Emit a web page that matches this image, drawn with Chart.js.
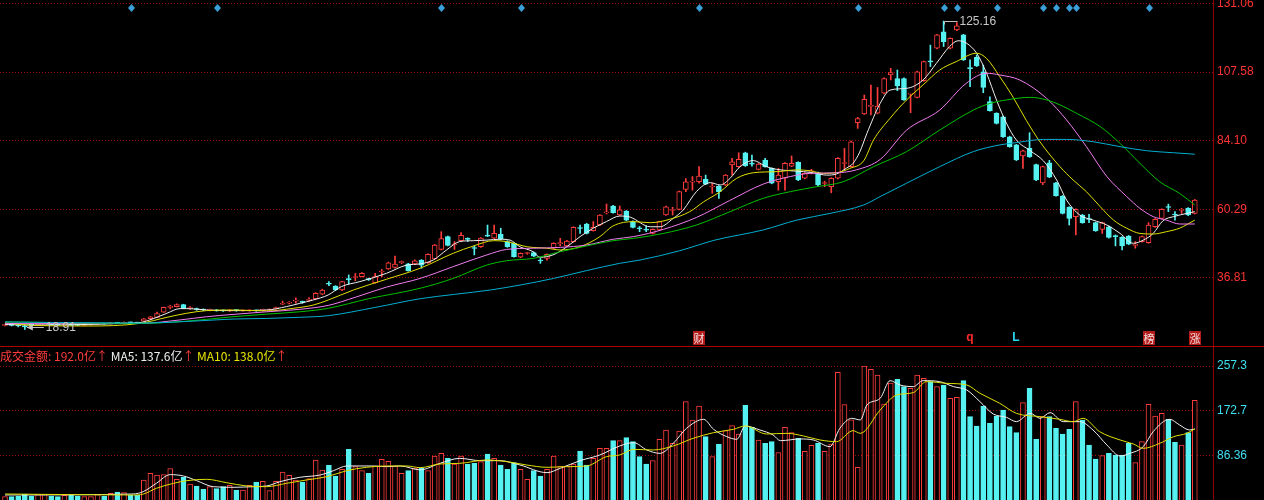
<!DOCTYPE html>
<html>
<head>
<meta charset="utf-8">
<script src="https://cdn.jsdelivr.net/npm/chart.js@4.4.1/dist/chart.umd.min.js"></script>
<style>
  html, body { margin: 0; padding: 0; background: #000; }
  #wrap { position: relative; width: 1264px; height: 500px; overflow: hidden; background: #000; }
  #price { position: absolute; left: 0; top: 0; }
  #vol { position: absolute; left: 0; top: 346px; }
  #sep { position: absolute; left: 0; top: 346px; width: 1264px; height: 1px; background: #b00000; }
</style>
</head>
<body>
<div id="wrap">
  <canvas id="price" width="1264" height="346"></canvas>
  <canvas id="vol" width="1264" height="154"></canvas>
  <div id="sep"></div>
</div>
<script>
// ── Données (une bougie par séance, index 0..180) ────────────────────────────

const opens = [
  20.3, 20.6, 20.4, 20.1, 20.5, 20.3, 20.5, 20.7, 20.5, 20.4,
  20.6, 20.5, 20.3, 20.5, 20.7, 21.0, 20.9, 21.3, 21.0, 21.4,
  21.3, 21.8, 22.6, 23.1, 24.9, 26.5, 26.8, 27.45, 26.1, 26.0,
  25.8, 25.5, 25.7, 25.5, 25.3, 25.6, 25.3, 25.3, 25.5, 25.5,
  25.6, 26.1, 27.6, 28.0, 28.7, 28.4, 28.95, 29.5, 31.05, 34.7,
  33.9, 32.5, 36.3, 36.8, 37.1, 36.3, 35.0, 38.7, 39.75, 40.3,
  41.95, 41.5, 41.5, 42.85, 41.9, 43.2, 46.5, 50.9, 48.1, 49.5,
  50.05, 47.0, 47.4, 51.2, 50.4, 51.7, 49.2, 48.6, 43.8, 45.1,
  45.4, 42.7, 43.4, 46.9, 48.5, 47.7, 49.2, 53.9, 55.26, 52.96,
  54.9, 59.1, 61.45, 58.35, 59.7, 56.06, 53.9, 53.3, 52.0, 53.2,
  58.35, 59.9, 60.3, 67.2, 69.7, 69.8, 70.6, 68.0, 68.35, 68.7,
  75.6, 75.0, 79.8, 76.0, 74.1, 77.3, 74.4, 69.8, 71.0, 75.2,
  76.5, 71.0, 73.2, 72.9, 69.2, 68.1, 71.0, 76.1, 75.0, 90.2,
  93.2, 95.8, 93.4, 100.3, 106.6, 105.4, 105.4, 100.0, 98.9, 104.6,
  111.3, 115.8, 121.5, 115.8, 122.1, 120.4, 109.0, 112.7, 107.7, 97.4,
  93.4, 92.2, 85.3, 82.5, 78.7, 81.3, 75.7, 69.4, 76.3, 69.4,
  64.9, 61.0, 57.8, 58.35, 56.95, 55.7, 53.4, 54.3, 51.0, 50.65,
  51.1, 47.9, 49.2, 48.8, 54.3, 57.2, 61.1, 58.5, 59.95, 60.65,
  58.9
];
const highs = [
  20.8, 20.7, 20.5, 20.3, 20.6, 20.7, 20.8, 20.8, 20.6, 20.7,
  20.7, 20.6, 20.6, 20.8, 21.1, 21.1, 21.4, 21.4, 21.5, 21.5,
  21.4, 22.7, 23.4, 24.9, 26.6, 27.2, 27.7, 27.6, 26.8, 26.3,
  26.0, 25.9, 25.8, 25.6, 25.7, 25.7, 25.6, 25.7, 25.6, 25.9,
  26.0, 26.6, 28.7, 28.5, 29.8, 28.7, 29.9, 31.6, 32.8, 35.4,
  34.0, 35.5, 37.7, 38.2, 38.5, 36.6, 38.25, 39.6, 42.1, 44.2,
  42.5, 41.7, 42.9, 43.0, 45.0, 48.2, 52.6, 51.1, 49.2, 52.3,
  50.5, 47.7, 50.6, 54.9, 54.9, 53.8, 49.5, 48.8, 45.3, 45.5,
  45.6, 43.4, 45.0, 48.8, 50.3, 49.6, 54.3, 54.9, 55.5, 56.1,
  58.5, 62.15, 61.7, 61.45, 59.9, 56.3, 54.4, 54.6, 53.6, 56.2,
  61.4, 61.0, 66.6, 70.9, 71.6, 75.0, 72.1, 69.3, 68.5, 72.3,
  77.9, 79.8, 80.0, 79.0, 76.1, 77.9, 74.6, 74.4, 76.4, 78.7,
  76.7, 72.9, 74.1, 73.1, 70.0, 71.2, 78.1, 81.3, 83.8, 92.0,
  99.7, 103.1, 102.3, 105.6, 108.9, 108.3, 105.6, 100.3, 107.9, 111.4,
  116.9, 120.6, 125.16, 119.4, 124.7, 120.6, 111.8, 113.5, 110.0, 99.1,
  93.6, 92.4, 85.5, 82.7, 80.7, 86.7, 75.9, 75.2, 77.2, 69.6,
  65.1, 61.2, 60.5, 58.6, 58.6, 55.9, 55.9, 54.5, 51.5, 50.9,
  51.3, 49.2, 51.1, 55.7, 57.1, 60.5, 62.1, 59.5, 60.65, 60.9,
  63.7
];
const lows = [
  20.1, 20.1, 19.8, 18.91, 20.2, 20.2, 20.4, 20.4, 20.3, 20.3,
  20.3, 20.2, 20.2, 20.4, 20.6, 20.7, 20.8, 20.9, 20.9, 21.1,
  21.0, 21.7, 22.5, 23.0, 24.8, 26.0, 26.7, 26.1, 25.8, 25.5,
  25.4, 25.3, 25.2, 25.1, 25.1, 25.2, 25.2, 25.2, 25.2, 25.3,
  25.5, 25.9, 27.5, 27.7, 28.0, 27.9, 28.6, 29.3, 30.9, 34.0,
  32.3, 32.3, 34.6, 35.7, 37.0, 35.8, 34.9, 37.1, 39.6, 40.0,
  41.6, 39.0, 41.3, 40.0, 41.7, 43.0, 46.3, 47.7, 46.5, 49.3,
  49.2, 44.6, 47.2, 50.9, 50.2, 49.8, 47.2, 43.8, 43.6, 44.8,
  44.0, 41.7, 42.8, 46.7, 47.7, 47.5, 49.0, 52.0, 51.8, 52.8,
  54.7, 58.7, 59.0, 58.2, 56.4, 53.9, 52.6, 52.6, 51.8, 53.0,
  58.2, 58.35, 60.1, 66.4, 66.9, 69.3, 68.8, 65.8, 64.1, 68.5,
  72.1, 74.8, 75.1, 75.2, 73.9, 74.8, 69.1, 66.9, 66.9, 75.0,
  70.2, 70.8, 72.5, 68.5, 68.1, 66.0, 70.8, 73.9, 74.8, 88.2,
  93.0, 92.8, 93.2, 100.1, 104.9, 101.2, 97.8, 93.6, 98.7, 104.4,
  109.5, 115.6, 116.4, 115.6, 121.9, 111.6, 102.6, 109.5, 100.5, 94.1,
  89.7, 85.1, 81.7, 77.1, 74.4, 78.2, 70.2, 68.8, 71.2, 64.8,
  58.7, 54.9, 51.5, 55.5, 55.7, 52.7, 52.0, 50.4, 47.7, 46.3,
  48.1, 46.9, 49.0, 48.6, 54.1, 57.0, 59.5, 56.6, 58.9, 58.1,
  58.7
];
const closes = [
  20.5, 20.3, 20.1, 19.8, 20.3, 20.6, 20.7, 20.5, 20.4, 20.6,
  20.4, 20.3, 20.5, 20.7, 21.0, 20.8, 21.3, 21.0, 21.4, 21.2,
  21.1, 22.6, 23.3, 24.4, 26.5, 26.7, 27.5, 26.2, 26.3, 25.8,
  25.6, 25.7, 25.3, 25.3, 25.5, 25.4, 25.5, 25.5, 25.3, 25.6,
  25.8, 26.2, 27.8, 28.1, 28.8, 28.26, 29.06, 31.36, 32.5, 34.5,
  32.5, 35.4, 36.1, 36.95, 38.25, 36.1, 37.1, 38.85, 41.9, 41.4,
  42.1, 39.2, 42.6, 41.1, 44.8, 48.0, 50.2, 47.9, 48.25, 51.35,
  49.95, 46.8, 50.4, 51.05, 52.0, 50.0, 47.4, 44.0, 45.15, 45.3,
  44.2, 42.5, 44.8, 48.6, 48.6, 49.4, 54.1, 53.7, 52.0, 54.1,
  58.35, 59.2, 59.16, 60.1, 56.6, 54.1, 53.6, 53.1, 53.4, 56.05,
  61.2, 60.07, 66.4, 69.8, 69.8, 71.8, 69.0, 68.1, 66.4, 72.1,
  76.7, 77.5, 75.35, 75.9, 75.9, 75.0, 69.3, 72.1, 76.15, 76.15,
  70.4, 72.7, 73.3, 68.7, 69.3, 71.0, 77.9, 76.2, 83.6, 91.6,
  98.2, 95.9, 95.9, 105.4, 107.4, 102.8, 98.0, 100.1, 107.7, 111.2,
  111.1, 120.4, 118.1, 119.2, 123.5, 111.8, 108.8, 109.7, 102.35, 94.3,
  89.9, 85.3, 81.9, 77.3, 80.5, 78.4, 70.4, 75.0, 71.4, 65.0,
  58.9, 57.2, 60.3, 55.7, 56.8, 52.95, 55.7, 50.65, 50.9, 47.7,
  48.3, 48.0, 50.9, 54.9, 56.86, 60.3, 60.95, 58.35, 60.07, 58.35,
  63.5
];
// Montant des transactions (亿)
const volumes = [
  9.1, 9.1, 10.4, 14.2, 10.4, 12.9, 12.9, 10.4, 9.1, 11.7,
  11.7, 10.4, 9.1, 9.1, 12.9, 10.4, 15.4, 18.0, 16.7, 11.7,
  11.7, 40.8, 53.5, 50.3, 51.0, 62.3, 42.1, 45.9, 33.2, 29.4,
  23.1, 28.1, 24.3, 28.1, 30.7, 21.8, 21.8, 30.7, 37.0, 38.3,
  20.5, 38.3, 56.0, 49.7, 40.8, 37.0, 43.3, 78.8, 59.8, 68.7,
  48.4, 61.1, 99.0, 66.1, 58.5, 53.5, 67.4, 80.1, 76.2, 67.4,
  53.5, 58.5, 63.6, 63.0, 58.5, 86.4, 91.4, 81.9, 71.2, 86.4,
  71.2, 72.4, 75.6, 90.2, 81.9, 69.3, 61.1, 73.7, 61.1, 42.1,
  58.5, 48.4, 61.1, 86.4, 67.4, 67.4, 71.2, 95.9, 69.3, 81.9,
  100.9, 100.9, 115.5, 115.5, 121.2, 113.6, 85.1, 71.2, 77.5, 118.0,
  135.8, 110.4, 133.9, 189.6, 154.8, 181.3, 123.1, 85.1, 108.5, 134.5,
  144.0, 128.2, 182.6, 140.8, 116.8, 110.4, 113.6, 92.7, 140.8, 130.7,
  119.9, 95.2, 106.6, 111.0, 95.2, 109.2, 245.4, 184.0, 155.0, 64.9,
  257.3, 251.0, 240.2, 185.0, 225.0, 232.0, 218.0, 214.9, 240.2, 233.9,
  227.6, 218.0, 221.2, 195.9, 197.8, 229.5, 161.1, 143.4, 181.3, 148.4,
  162.4, 173.7, 142.1, 130.7, 187.7, 214.9, 118.0, 161.1, 161.1, 138.9,
  128.2, 137.0, 189.6, 154.8, 107.3, 80.7, 87.0, 91.4, 88.3, 88.3,
  110.4, 73.7, 113.6, 184.5, 162.4, 167.4, 156.0, 112.3, 107.3, 130.7,
  192.0
];

// Moyennes mobiles du prix, relevées point par point (index, valeur)
const ma5Idx = [0, 4.3, 9, 14, 18, 20.4, 22.4, 24.5, 26.5, 28.5, 30.5, 34.5, 39.6, 42.6, 44.6, 46.6, 48.9, 50.9, 53.7, 57.7, 60.8, 62.8, 64.8, 66.8, 68.8, 70.9, 72.9, 74.9, 76.4, 77.9, 79.9, 80.9, 82.9, 85, 87, 89, 91, 93, 94.6, 97.6, 99.1, 101.1, 102.6, 104.6, 106.7, 108.2, 109.7, 111.2, 113.2, 115.2, 116.7, 118.8, 120.8, 122.3, 124.3, 125.8, 127.3, 128.3, 129.3, 130.4, 132.4, 133.9, 136.4, 138.9, 140.9, 142.9, 144.2, 145.5, 147, 148.5, 150, 151.5, 153, 155.1, 157.1, 159.1, 160.6, 162.6, 164.6, 166.7, 168.7, 170.7, 172.2, 173.7, 175.2, 176.8, 178.8, 180];
const ma5Val = [20.6, 20.45, 20.5, 20.7, 21.0, 21.25, 22.6, 24.5, 26.1, 26.0, 25.6, 25.4, 25.6, 26.8, 27.9, 29.05, 30.8, 33.7, 35.4, 38.25, 41.1, 41.5, 42.85, 46.3, 49.2, 49.5, 49.7, 50.0, 49.7, 47.4, 45.7, 43.8, 44.6, 47.4, 50.9, 53.8, 56.1, 58.0, 57.6, 54.3, 54.3, 57.2, 60.07, 66.4, 69.5, 68.7, 71.0, 75.0, 77.1, 75.0, 74.1, 73.6, 73.3, 72.9, 72.1, 72.5, 74.5, 76.15, 80.0, 86.5, 96.8, 101.4, 102.0, 104.9, 110.6, 116.4, 118.4, 117.5, 114.1, 107.2, 98.0, 90.0, 84.2, 80.5, 77.0, 70.4, 63.5, 58.35, 56.6, 54.9, 52.0, 48.6, 49.7, 52.0, 56.4, 57.8, 58.9, 59.5];

const ma10Idx = [0, 4.3, 12.4, 20.4, 24.5, 27.5, 30.5, 34.5, 39.6, 43.6, 46.6, 48.9, 52.7, 57.7, 62.8, 67.8, 70.9, 73.9, 75.9, 79, 82, 84, 87, 90, 92, 95.1, 97.6, 100.6, 103.6, 105.7, 108.2, 110.7, 113.2, 116.8, 119.8, 121.8, 123.8, 125.8, 127.8, 129.9, 131.4, 133.9, 136.4, 138.9, 141.4, 143.9, 147, 148.5, 150.5, 152.5, 154.5, 156.6, 159.6, 161.6, 163.6, 165.7, 167.7, 169.7, 171.7, 173.7, 175.7, 177.7, 180];
const ma10Val = [21.2, 20.3, 20.1, 21.0, 23.1, 24.5, 25.4, 25.6, 25.3, 26.2, 27.3, 29.05, 32.5, 36.2, 40.0, 45.15, 47.7, 49.5, 49.2, 47.4, 46.9, 46.3, 47.4, 50.9, 54.6, 56.06, 55.7, 56.9, 59.5, 62.9, 66.4, 71.0, 72.9, 73.3, 73.9, 73.6, 72.7, 72.9, 74.4, 77.0, 84.2, 91.7, 98.0, 103.2, 108.3, 111.2, 114.1, 112.3, 106.0, 99.0, 91.0, 83.5, 75.0, 70.4, 66.4, 61.2, 56.6, 53.8, 52.0, 51.8, 52.6, 53.8, 56.6];

const ma20Idx = [0, 20.4, 26.5, 30.5, 34.5, 39.6, 44.6, 48.9, 53, 57.7, 62.8, 67.8, 72.9, 75.9, 79.9, 84, 88, 92, 95.1, 99.6, 104.6, 109.6, 114.7, 118.8, 121.8, 125.8, 128.8, 132.4, 136.4, 141.4, 145.4, 148.5, 150.5, 153.5, 157.6, 160.6, 163.6, 166.7, 169.7, 171.7, 173.7, 175.7, 177.7, 180];
const ma20Val = [21.0, 21.0, 22.2, 23.3, 24.1, 25.0, 25.85, 27.2, 30.0, 33.5, 36.5, 40.55, 44.6, 46.5, 46.9, 47.2, 48.0, 50.0, 50.9, 53.4, 57.5, 63.3, 69.0, 71.6, 72.7, 72.9, 73.9, 77.5, 87.6, 94.5, 103.7, 107.2, 106.6, 104.9, 98.5, 91.1, 81.9, 71.6, 64.7, 60.65, 57.8, 56.6, 55.25, 55.25];

const ma30Idx = [0, 10, 20.4, 26.5, 30.5, 34.5, 39.6, 44.6, 48.9, 55, 62.8, 67.8, 72.9, 75.9, 79.9, 84, 88, 92, 95.1, 99.6, 104.6, 109.7, 114.7, 118.8, 122.8, 126.8, 131.4, 136.4, 141.4, 146.5, 149, 151.5, 155.1, 157.6, 159.6, 162.1, 165.7, 168.7, 171.7, 174.7, 177.7, 180];
const ma30Val = [21.5, 21.2, 21.0, 21.6, 22.4, 23.3, 24.2, 25.0, 26.2, 29.5, 33.1, 36.5, 41.1, 42.6, 43.4, 45.7, 47.7, 49.5, 50.3, 52.0, 54.9, 59.5, 64.1, 66.4, 68.1, 69.8, 75.0, 80.2, 87.6, 94.5, 96.8, 98.0, 98.9, 98.0, 96.3, 93.4, 88.8, 83.0, 76.15, 69.8, 65.8, 61.8];

const ma60Idx = [0, 20.4, 29.5, 34.5, 39.6, 44.6, 48.9, 56, 62.8, 68, 73.4, 77.9, 83, 88, 93, 96.1, 102, 107.4, 114.7, 119.8, 124.8, 129.9, 132.4, 136.4, 141.4, 146.5, 150.5, 153, 157.1, 160.6, 164.6, 168.7, 172.7, 176.8, 180];
const ma60Val = [21.5, 21.1, 21.9, 22.5, 22.7, 23.1, 23.66, 26.5, 29.5, 31.0, 32.5, 34.2, 36.5, 39.2, 41.7, 42.85, 46.0, 49.7, 53.2, 56.6, 58.9, 61.8, 64.7, 69.3, 75.0, 80.2, 82.5, 83.3, 84.4, 84.4, 83.6, 81.9, 80.5, 79.8, 79.3];

// Moyennes du volume
const volMa5Idx = [0, 19.4, 20.9, 22.9, 25, 27, 29, 31.5, 34.5, 37.6, 39.6, 41.6, 44.6, 47.7, 49.7, 51.7, 55.7, 57.7, 59.8, 62.8, 65.8, 68.8, 71.9, 74.9, 77.9, 82, 84, 87, 90, 93, 95.1, 97.1, 99.1, 101.1, 103.1, 105.7, 107.2, 109.2, 110.7, 112, 114.2, 116.2, 117.3, 120.3, 122.3, 124.8, 126.3, 128.1, 129.4, 130.4, 132.4, 133.9, 135.4, 137.4, 138.9, 141.4, 143.5, 145.5, 147.5, 149.5, 151.5, 153, 155.1, 156.6, 158.1, 160.1, 162.6, 164.6, 166.7, 168.7, 170.2, 172.2, 173.7, 176.2, 177.7, 179.2, 180];
const volMa5Val = [12.3, 14.2, 18.6, 34.5, 51.0, 48.4, 39.5, 28.1, 26.9, 28.1, 29.4, 37.6, 45.9, 50.3, 58.5, 67.4, 67.4, 66.1, 67.4, 60.0, 72.4, 81.9, 77.5, 77.5, 69.3, 54.7, 63.0, 77.5, 88.3, 105.4, 111.7, 97.8, 91.4, 110.4, 138.9, 156.0, 137.0, 123.1, 118.0, 143.4, 135.8, 126.3, 115.5, 118.7, 116.8, 104.1, 138.9, 157.9, 154.8, 183.3, 195.9, 229.5, 221.2, 218.1, 229.5, 227.6, 218.1, 211.7, 189.6, 166.2, 159.8, 151.6, 167.4, 157.9, 168.7, 151.6, 151.6, 135.8, 107.3, 86.4, 91.4, 104.1, 132.6, 156.0, 145.3, 135.8, 137.6];

const volMa10Idx = [0, 19.4, 20.9, 22.9, 25.5, 27.5, 30.5, 33.5, 36.6, 39.6, 42.6, 45.6, 48.7, 51.7, 54.7, 57.7, 60.8, 62.8, 65.8, 68.8, 72.9, 75.9, 78.9, 82, 85, 88, 91, 93, 95.1, 98.1, 101.1, 104.1, 107.2, 110.2, 112, 115.2, 118.3, 120.8, 123.3, 125.8, 128.3, 129.4, 132.4, 134.9, 137.4, 139.4, 142.5, 145.5, 147.5, 150.5, 153, 156.6, 159.6, 161.6, 163.1, 165.6, 168.7, 170.7, 172.2, 174.7, 176.8, 178.8, 180];
const volMa10Val = [14.2, 12.3, 14.0, 25.0, 34.5, 39.5, 42.1, 35.7, 29.4, 28.1, 34.5, 40.8, 47.1, 58.5, 64.9, 67.4, 67.4, 64.2, 71.2, 72.4, 78.8, 75.6, 69.3, 64.9, 66.1, 67.4, 85.1, 88.3, 99.0, 97.8, 105.4, 119.9, 130.7, 137.0, 143.4, 128.2, 129.4, 124.4, 116.8, 113.6, 134.5, 129.4, 173.7, 202.2, 206.7, 227.6, 224.4, 221.2, 205.4, 186.4, 167.4, 161.1, 156.0, 151.6, 157.9, 132.6, 116.8, 109.2, 100.9, 110.4, 123.1, 129.4, 138.0];

// Axes
const priceTicks = [36.81, 60.29, 84.10, 107.58, 131.06];
const volTicks = [86.36, 172.7, 257.3];

// Signaux (losanges en haut) et repères texte en bas
const signalIdx = [19, 32, 66, 78, 105, 129, 142, 144, 150, 157, 159, 161, 162, 173];
const eventIdx = [105, 146, 153, 173, 180];
const eventText = ['财', 'q', 'L', '榜', '涨'];

// ── Mise en page ─────────────────────────────────────────────────────────────

const UP = '#ff3c3c';
const DOWN = '#56f2f2';
const GRID = '#9a0c0c';
const FONT = '"Liberation Sans", Arial, sans-serif';
const CJK = '"Noto Sans CJK SC", "Liberation Sans", sans-serif';

// 6.61 px par séance, première bougie à x=5, zone de tracé jusqu'à x=1213
const X_MIN = -5 / 6.61;
const X_MAX = X_MIN + 1213 / 6.61;

const isUp = closes.map((c, i) => c >= opens[i]);
const candleColor = isUp.map(u => (u ? UP : DOWN));
const pairs = (xs, ys) => xs.map((x, k) => ({ x, y: ys[k] }));

function lineDs(xs, ys, color) {
  return {
    type: 'line',
    data: pairs(xs, ys),
    borderColor: color,
    borderWidth: 1,
    pointRadius: 0,
    cubicInterpolationMode: 'monotone',
    order: 0,
  };
}

function xScale() {
  return { type: 'linear', min: X_MIN, max: X_MAX, display: false, offset: false };
}

function yScale(min, max, ticks, color, fmt) {
  return {
    type: 'linear',
    position: 'right',
    min, max,
    beginAtZero: false,
    afterFit(s) {
      // pas de marge réservée pour les libellés : la zone occupe toute la hauteur
      s.width = 51;
      s.paddingTop = 0;
      s.paddingBottom = 0;
    },
    afterBuildTicks(s) { s.ticks = ticks.map(v => ({ value: v })); },
    ticks: { color, padding: 4, font: { size: 12, family: FONT }, callback: fmt },
    grid: { color: GRID, drawTicks: false, lineWidth: 1 },
    border: { display: true, color: '#900000', width: 1, dash: [1, 2] },
  };
}

const baseOptions = {
  responsive: false,
  animation: false,
  devicePixelRatio: 1,
  events: [],
  layout: { padding: 0 },
  plugins: { legend: { display: false }, tooltip: { enabled: false } },
};

// Losanges, repères, plus haut / plus bas
const priceMarks = {
  id: 'priceMarks',
  afterDatasetsDraw(chart) {
    const { ctx, chartArea, scales: { x, y } } = chart;
    ctx.save();

    ctx.fillStyle = '#3a9fd6';
    signalIdx.forEach(i => {
      const px = Math.round(x.getPixelForValue(i)) + 0.5;
      const py = chartArea.top + 8;
      ctx.beginPath();
      ctx.moveTo(px, py - 4);
      ctx.lineTo(px + 3.5, py);
      ctx.lineTo(px, py + 4);
      ctx.lineTo(px - 3.5, py);
      ctx.closePath();
      ctx.fill();
    });

    // plus haut
    const hi = highs.indexOf(Math.max(...highs));
    const hx = Math.round(x.getPixelForValue(hi)) + 0.5;
    const hy = Math.round(y.getPixelForValue(highs[hi])) + 0.5;
    ctx.strokeStyle = '#c0c0c0';
    ctx.lineWidth = 1;
    ctx.beginPath();
    ctx.moveTo(hx, hy + 3);
    ctx.lineTo(hx, hy);
    ctx.lineTo(hx + 13, hy);
    ctx.stroke();
    ctx.fillStyle = '#c8c8c8';
    ctx.font = '12px ' + FONT;
    ctx.textBaseline = 'middle';
    ctx.textAlign = 'left';
    ctx.fillText(highs[hi].toFixed(2), hx + 15, hy);

    // plus bas
    const lo = lows.indexOf(Math.min(...lows));
    const lx = x.getPixelForValue(lo) + 2;
    const ly = Math.round(y.getPixelForValue(lows[lo])) - 1.5;
    ctx.beginPath();
    ctx.moveTo(lx, ly);
    ctx.lineTo(lx + 17, ly);
    ctx.stroke();
    ctx.beginPath();
    ctx.moveTo(lx, ly);
    ctx.lineTo(lx + 6, ly - 3);
    ctx.lineTo(lx + 6, ly + 3);
    ctx.closePath();
    ctx.fill();
    ctx.fillText(lows[lo].toFixed(2), lx + 19, ly);

    // repères en bas du panneau
    const by = chartArea.bottom - 8;
    eventText.forEach((t, k) => {
      const px = Math.round(x.getPixelForValue(eventIdx[k]));
      if (t === 'q' || t === 'L') {
        ctx.fillStyle = t === 'q' ? '#ff2a2a' : '#2ad6f0';
        ctx.font = 'bold 12px ' + FONT;
        ctx.textAlign = 'center';
        ctx.fillText(t, px, by);
      } else {
        ctx.fillStyle = '#b41c1c';
        ctx.fillRect(px - 6, by - 7, 12, 14);
        ctx.fillStyle = '#f4dede';
        ctx.font = '11px ' + CJK;
        ctx.textAlign = 'center';
        ctx.fillText(t, px, by + 1);
      }
    });

    ctx.restore();
  },
};

// Légende du panneau volume
const volLegend = {
  id: 'volLegend',
  afterDraw(chart) {
    const { ctx } = chart;
    const n = volumes.length - 1;
    const parts = [
      ['成交金额: ' + volumes[n].toFixed(1) + '亿', '#ff3c3c'],
      ['↑ ', '#ff3c3c'],
      ['MA5: ' + volMa5Val[volMa5Val.length - 1].toFixed(1) + '亿', '#f0f0f0'],
      ['↑ ', '#ff3c3c'],
      ['MA10: ' + volMa10Val[volMa10Val.length - 1].toFixed(1) + '亿', '#e6e600'],
      ['↑', '#ff3c3c'],
    ];
    ctx.save();
    ctx.font = '12px ' + CJK;
    ctx.textBaseline = 'middle';
    ctx.textAlign = 'left';
    let px = 0;
    parts.forEach(([t, c]) => {
      ctx.fillStyle = c;
      ctx.fillText(t, px, 10);
      px += ctx.measureText(t).width;
    });
    ctx.restore();
  },
};

// ── Graphique des cours ──────────────────────────────────────────────────────

new Chart(document.getElementById('price'), {
  type: 'bar',
  plugins: [priceMarks],
  data: {
    datasets: [
      lineDs(ma60Idx, ma60Val, '#00aed0'),
      lineDs(ma30Idx, ma30Val, '#00c000'),
      lineDs(ma20Idx, ma20Val, '#f07cf0'),
      lineDs(ma10Idx, ma10Val, '#e0e000'),
      lineDs(ma5Idx, ma5Val, '#f0f0f0'),
      {
        // corps
        data: closes.map((c, i) => ({ x: i, y: [opens[i], c] })),
        backgroundColor: isUp.map(u => (u ? '#000000' : DOWN)),
        borderColor: candleColor,
        borderWidth: 1,
        borderSkipped: false,
        barThickness: 5,
        minBarLength: 1,
        grouped: false,
        order: 1,
      },
      {
        // mèches
        data: closes.map((c, i) => ({ x: i, y: [lows[i], highs[i]] })),
        backgroundColor: candleColor,
        borderWidth: 0,
        barThickness: 1,
        grouped: false,
        order: 2,
      },
    ],
  },
  options: {
    ...baseOptions,
    scales: {
      x: xScale(),
      y: yScale(131.06 - 342 / 2.902, 131.06 + 4 / 2.902, priceTicks, '#ff3333', v => v.toFixed(2)),
    },
  },
});

// ── Graphique des volumes ────────────────────────────────────────────────────

new Chart(document.getElementById('vol'), {
  type: 'bar',
  plugins: [volLegend],
  data: {
    datasets: [
      lineDs(volMa10Idx, volMa10Val, '#e0e000'),
      lineDs(volMa5Idx, volMa5Val, '#f0f0f0'),
      {
        data: volumes.map((v, i) => ({ x: i, y: v })),
        backgroundColor: isUp.map(u => (u ? '#000000' : DOWN)),
        borderColor: candleColor,
        borderWidth: 1,
        borderSkipped: false,
        barThickness: 5,
        grouped: false,
        order: 1,
      },
    ],
  },
  options: {
    ...baseOptions,
    scales: {
      x: xScale(),
      y: yScale(86.36 - 44 / 0.5265, 257.3 + 20 / 0.5265, volTicks, '#3ee0f0', v => String(v)),
    },
  },
});
</script>
</body>
</html>
